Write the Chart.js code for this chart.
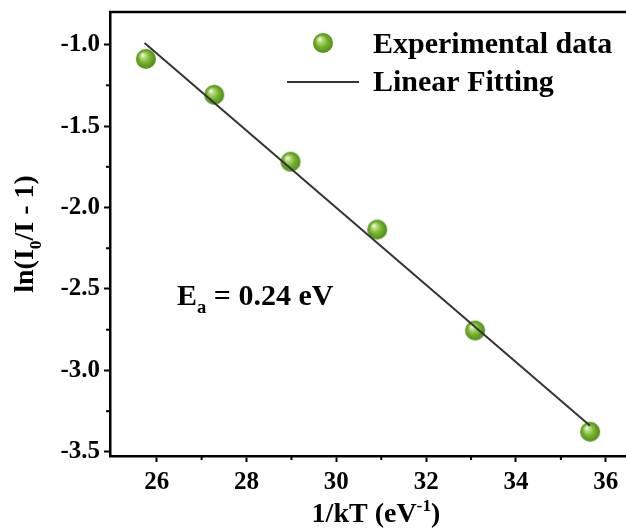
<!DOCTYPE html>
<html>
<head>
<meta charset="utf-8">
<script src="https://cdn.jsdelivr.net/npm/chart.js@4/dist/chart.umd.min.js"></script>
<style>
  html, body { margin: 0; padding: 0; background: #fff; overflow: hidden; }
  #wrap { width: 626px; height: 531px; }
  canvas { display: block; }
</style>
</head>
<body>
<div id="wrap"><canvas id="arrhenius" width="626" height="531"></canvas></div>
<script>
// measured points: 1/kT (eV^-1) vs ln(I0/I - 1)
const xValues = [25.76, 27.28, 28.98, 30.91, 33.09, 35.65];
const yValues = [-1.088, -1.308, -1.719, -2.135, -2.755, -3.376];

// linear fit end points
const fitX = [25.73, 35.65];
const fitY = [-0.99, -3.34];

// axis ticks
const xTicks = [26, 28, 30, 32, 34, 36];
const yTicks = [-1.0, -1.5, -2.0, -2.5, -3.0, -3.5];
const xMinor = [27, 29, 31, 33, 35];
const yMinor = [-1.25, -1.75, -2.25, -2.75, -3.25];

const serif = '"Liberation Serif", "Times New Roman", serif';

// little green sphere used as the point marker
function makeBall(r) {
  const c = document.createElement('canvas');
  c.width = c.height = r * 2 + 2;
  const g = c.getContext('2d');
  const cx = r + 1, cy = r + 1;
  const grad = g.createRadialGradient(cx - r * 0.35, cy - r * 0.4, r * 0.05, cx, cy, r);
  grad.addColorStop(0, '#f6fbee');
  grad.addColorStop(0.18, '#bfe08a');
  grad.addColorStop(0.55, '#76b52e');
  grad.addColorStop(1, '#4e8c1a');
  g.fillStyle = grad;
  g.beginPath();
  g.arc(cx, cy, r, 0, Math.PI * 2);
  g.fill();
  return c;
}
const ball = makeBall(10);

// draws text pieces with sub/superscripts, returns width
function richText(ctx, parts, x, y, size, measureOnly) {
  let w = 0;
  parts.forEach(p => {
    const s = p.sub || p.sup ? size * 0.62 : size;
    ctx.font = 'bold ' + s + 'px ' + serif;
    const dy = p.sub ? size * 0.28 : p.sup ? -size * 0.38 : 0;
    if (!measureOnly) ctx.fillText(p.t, x + w, y + dy);
    w += ctx.measureText(p.t).width;
  });
  return w;
}

const extras = {
  id: 'extras',
  afterDraw(chart) {
    const ctx = chart.ctx;
    const xs = chart.scales.x, ys = chart.scales.y;
    const a = chart.chartArea;
    ctx.save();
    ctx.strokeStyle = '#000';
    ctx.fillStyle = '#000';

    // top frame line
    ctx.lineWidth = 2.5;
    ctx.beginPath();
    ctx.moveTo(a.left - 1, a.top);
    ctx.lineTo(a.right, a.top);
    ctx.stroke();

    // minor ticks
    ctx.lineWidth = 2;
    xMinor.forEach(v => {
      const px = xs.getPixelForValue(v);
      ctx.beginPath();
      ctx.moveTo(px, a.bottom);
      ctx.lineTo(px, a.bottom + 4);
      ctx.stroke();
    });
    yMinor.forEach(v => {
      const py = ys.getPixelForValue(v);
      ctx.beginPath();
      ctx.moveTo(a.left, py);
      ctx.lineTo(a.left - 4, py);
      ctx.stroke();
    });

    ctx.textBaseline = 'alphabetic';
    ctx.textAlign = 'left';

    // x title
    const xParts = [{ t: '1/kT (eV' }, { t: '-1', sup: true }, { t: ')' }];
    let w = richText(ctx, xParts, 0, 0, 28, true);
    richText(ctx, xParts, 376 - w / 2, 522, 28);

    // y title
    const yParts = [{ t: 'ln(I' }, { t: '0', sub: true }, { t: '/I - 1)' }];
    ctx.save();
    ctx.translate(33, (a.top + a.bottom) / 2);
    ctx.rotate(-Math.PI / 2);
    w = richText(ctx, yParts, 0, 0, 28, true);
    richText(ctx, yParts, -w / 2, 0, 28);
    ctx.restore();

    // activation energy note
    richText(ctx, [{ t: 'E' }, { t: 'a', sub: true }, { t: ' = 0.24 eV' }], 177, 305, 30);

    // legend
    ctx.drawImage(ball, 323 - ball.width / 2, 43 - ball.height / 2);
    ctx.strokeStyle = '#333';
    ctx.lineWidth = 2;
    ctx.beginPath();
    ctx.moveTo(287, 82);
    ctx.lineTo(359, 82);
    ctx.stroke();
    ctx.font = 'bold 30px ' + serif;
    ctx.fillText('Experimental data', 373, 53);
    ctx.fillText('Linear Fitting', 373, 91);

    ctx.restore();
  }
};

const ctx = document.getElementById('arrhenius').getContext('2d');
const chart = new Chart(ctx, {
  type: 'scatter',
  data: {
    datasets: [
      {
        label: 'Linear Fitting',
        type: 'line',
        data: fitX.map((x, i) => ({ x: x, y: fitY[i] })),
        borderColor: '#333333',
        borderWidth: 2,
        pointRadius: 0,
        fill: false
      },
      {
        label: 'Experimental data',
        data: xValues.map((x, i) => ({ x: x, y: yValues[i] })),
        pointStyle: ball,
        pointRadius: 10
      }
    ]
  },
  options: {
    responsive: false,
    animation: false,
    // no auto padding for point radius, so the plot runs to the right edge
    layout: { autoPadding: false, padding: { top: 12, right: 0, left: 0, bottom: 0 } },
    plugins: {
      legend: { display: false },
      tooltip: { enabled: false }
    },
    scales: {
      x: {
        type: 'linear',
        min: 24.96,
        max: 36.45,
        afterBuildTicks: s => { s.ticks = xTicks.map(v => ({ value: v })); },
        afterFit: s => { s.height = 75; s.paddingLeft = 0; s.paddingRight = 0; },
        border: { display: true, color: '#000', width: 2.5 },
        grid: { drawOnChartArea: false, drawTicks: true, tickLength: 6, tickColor: '#000', tickWidth: 2 },
        ticks: {
          color: '#000',
          padding: 6,
          font: { family: serif, size: 25, weight: 'bold' },
          callback: v => String(v)
        }
      },
      y: {
        type: 'linear',
        min: -3.525,
        max: -0.8,
        afterBuildTicks: s => { s.ticks = yTicks.map(v => ({ value: v })); },
        afterFit: s => { s.width = 110; s.paddingTop = 0; s.paddingBottom = 0; },
        border: { display: true, color: '#000', width: 2.5 },
        grid: { drawOnChartArea: false, drawTicks: true, tickLength: 6, tickColor: '#000', tickWidth: 2 },
        ticks: {
          color: '#000',
          padding: 4,
          font: { family: serif, size: 25, weight: 'bold' },
          callback: v => v.toFixed(1)
        }
      }
    }
  },
  plugins: [extras]
});
</script>
</body>
</html>
